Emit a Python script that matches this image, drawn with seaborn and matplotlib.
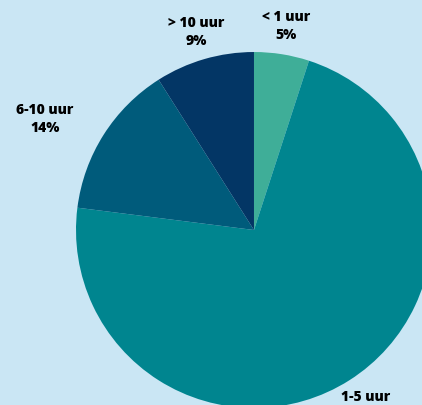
import numpy as np
import seaborn as sns
import matplotlib.pyplot as plt

categorieen = ['< 1 uur', '1-5 uur', '6-10 uur', '> 10 uur']
percentages = [5, 72, 14, 9]
kleuren = ['#3fae98', '#00858f', '#005b7b', '#033665']

sns.set_style('white')
plt.rcParams['font.family'] = ['Open Sans', 'DejaVu Sans']

achtergrond = '#cae6f4'
fig = plt.figure(figsize=(4.22, 4.05), dpi=100, facecolor=achtergrond)
ax = fig.add_axes([0, 0, 1, 1])
ax.set_facecolor(achtergrond)

wedges, _ = ax.pie(percentages, colors=sns.color_palette(kleuren), startangle=90,
                   counterclock=False, radius=1,
                   wedgeprops=dict(linewidth=0))

# labels bij elk segment (afstand en kleine hoekcorrectie)
afstand = [1.16, 1.17, 1.33, 1.16]
hoek_extra = [0, 0, 4.5, 0]
for w, cat, pct, d, extra in zip(wedges, categorieen, percentages, afstand, hoek_extra):
    hoek = np.deg2rad((w.theta1 + w.theta2) / 2 + extra)
    ax.text(d * np.cos(hoek), d * np.sin(hoek), f'{cat}\n{pct}%',
            ha='center', va='center', fontsize=10, fontweight=800,
            color='black', linespacing=1.35, clip_on=False)

ax.set_xlim(-1.427, 0.944)
ax.set_ylim(-0.983, 1.292)
ax.set_aspect('equal')
ax.axis('off')

plt.savefig('out.png', dpi=100, facecolor=achtergrond)
